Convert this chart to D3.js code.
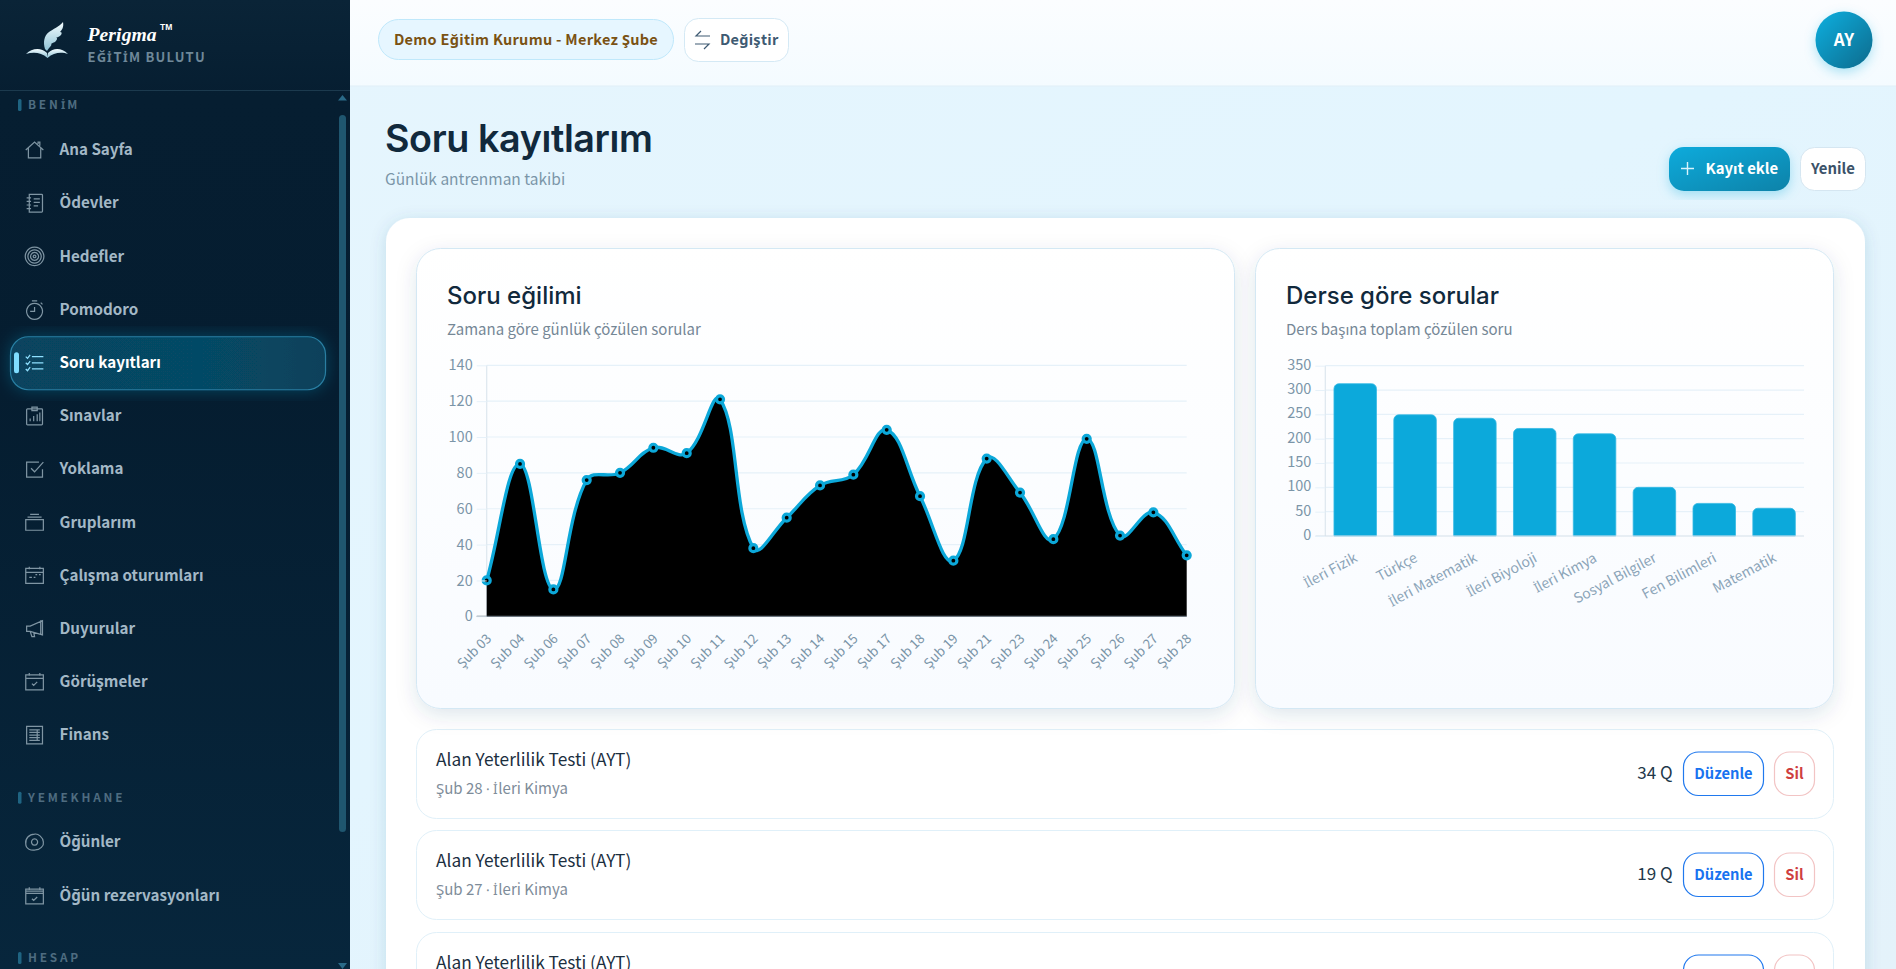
<!DOCTYPE html>
<html lang="tr">
<head>
<meta charset="utf-8">
<title>Soru kayıtlarım</title>
<script src="https://cdn.jsdelivr.net/npm/d3@7"></script>
<style>
  /* dotted capital I and the middle dot are poor in the CJK font, borrow them */
  @font-face { font-family: "Fix"; src: local("Noto Sans"), local("NotoSans-Regular"); font-weight: 400; unicode-range: U+0130, U+00B7; size-adjust: 92%; }
  @font-face { font-family: "Fix"; src: local("Noto Sans Bold"), local("NotoSans-Bold"); font-weight: 700; unicode-range: U+0130, U+00B7; size-adjust: 92%; }
  html, body { margin: 0; padding: 0; background: #e5f5fd; overflow: hidden; }
  svg { display: block; }
  text { font-family: "Fix", "Noto Sans CJK SC", "Noto Sans", sans-serif; }
  .head { font-family: "Inter", sans-serif; }
</style>
</head>
<body>
<div id="app"></div>
<script>
// line chart data
const trendDays = ["Şub 03","Şub 04","Şub 06","Şub 07","Şub 08","Şub 09","Şub 10","Şub 11","Şub 12","Şub 13","Şub 14","Şub 15","Şub 17","Şub 18","Şub 19","Şub 21","Şub 23","Şub 24","Şub 25","Şub 26","Şub 27","Şub 28"];
const trendValues = [20,85,15,76,80,94,91,121,38,55,73,79,104,67,31,88,69,43,99,45,58,34];
const trendTicks = [0,20,40,60,80,100,120,140];

// bar chart data
const subjects = ["İleri Fizik","Türkçe","İleri Matematik","İleri Biyoloji","İleri Kimya","Sosyal Bilgiler","Fen Bilimleri","Matematik"];
const subjectValues = [313,249,242,221,210,100,67,57];
const subjectTicks = [0,50,100,150,200,250,300,350];

// sidebar
const navMain = ["Ana Sayfa","Ödevler","Hedefler","Pomodoro","Soru kayıtları","Sınavlar","Yoklama","Gruplarım","Çalışma oturumları","Duyurular","Görüşmeler","Finans"];
const navMeal = ["Öğünler","Öğün rezervasyonları"];

// records under the charts
const recordTitles = ["Alan Yeterlilik Testi (AYT)","Alan Yeterlilik Testi (AYT)","Alan Yeterlilik Testi (AYT)"];
const recordSubs = ["Şub 28 · İleri Kimya","Şub 27 · İleri Kimya",""];
const recordCounts = ["34 Q","19 Q",""];

// icons on a 24 box, same order as the nav lists
const navIcons = [
  "M2 12 L12 3 L22 12 M5 10 V21 H19 V10 M16 5 V3 H18 V7",
  "M6 2 H20 A1 1 0 0 1 21 3 V21 A1 1 0 0 1 20 22 H6 Z M3 6 H8 M3 10 H8 M3 14 H8 M3 18 H8 M11 7 H18 M11 11 H18 M11 15 H16",
  "M12 1.5 A10.5 10.5 0 1 0 12.01 1.5 Z M12 4.5 A7.5 7.5 0 1 0 12.01 4.5 Z M12 7.5 A4.5 4.5 0 1 0 12.01 7.5 Z M12 10.5 A1.5 1.5 0 1 0 12.01 10.5 Z",
  "M12 5 A9 9 0 1 0 12.01 5 Z M12 9 V14 H7 M9 2 H15 M19 4 L21 6",
  "M9 5 H22 M9 12 H22 M9 19 H22 M2 5 L4 7 L7 3 M2 12 L4 14 L7 10 M2 19 L4 21 L7 17",
  "M4 4 H20 A1 1 0 0 1 21 5 V21 A1 1 0 0 1 20 22 H4 A1 1 0 0 1 3 21 V5 A1 1 0 0 1 4 4 Z M9 2 H15 V6 H9 Z M7 18 V15 M11 18 V12 M15 18 V10 M18 18 V8",
  "M21 12 V21 H3 V4 H17 M8 11 L12 15 L22 4",
  "M2 9 H22 V21 H2 Z M4 6 H20 M7 3 H17",
  "M2 4 H22 V21 H2 Z M2 8.5 H22 M6 2 V5 M18 2 V5 M6 14 H9 M11 14 H13 M13 11 H15 M17 11 H19",
  "M21 3 V19 L7 15 H3 V9 H7 Z M21 3 H19 V19 M7 15 L9 21 H12 L11 16",
  "M2 4 H22 V21 H2 Z M2 8 H22 M6 2 V5 M18 2 V5 M9 14 L11 16 L15 12",
  "M3 2 H21 V22 H3 Z M6 6 H18 M6 9 H18 M6 12 H18 M6 15 H18 M6 18 H18 M15 6 V18"
];
const mealIcons = [
  "M12 3 C16 2 22 7 22 12 C23 16 18 21 13 21 C8 22 2 20 2 14 C1 8 6 3 12 3 Z M12 8.5 A3.5 3.5 0 1 0 12.01 8.5 Z",
  "M2 4 H22 V21 H2 Z M2 9 H22 M2 6.5 H22 M6 2 V5 M18 2 V5 M9 15 L11 17 L15 13"
];

const W = 1896, H = 969;
const svg = d3.select("#app").append("svg").attr("width", W).attr("height", H);
const defs = svg.append("defs");

function gradient(id, x2, y2, stops) {
  const g = defs.append("linearGradient").attr("id", id)
    .attr("x1", 0).attr("y1", 0).attr("x2", x2).attr("y2", y2);
  stops.forEach(s => g.append("stop").attr("offset", s[0]).attr("stop-color", s[1]));
}
gradient("sideBg", 0, 1, [[0, "#0a2437"], [0.1, "#061e31"], [0.4, "#051d30"], [1, "#07263c"]]);
gradient("topBg", 0, 1, [[0, "#fbfdff"], [1, "#f4fbff"]]);
gradient("pageBg", 1, 1, [[0, "#e6f5fd"], [0.5, "#e3f5fe"], [1, "#e4f2fa"]]);
gradient("cardBg", 0, 1, [[0, "#ffffff"], [1, "#f8fbff"]]);
gradient("activeBg", 1, 0, [[0, "#07435e"], [0.6, "#064a66"], [1, "#08415a"]]);
gradient("blueBtn", 1, 1, [[0, "#0cabdc"], [1, "#0a82a8"]]);
gradient("avatarBg", 1, 1, [[0, "#0db0e0"], [1, "#086a8c"]]);
gradient("logoBg", 0, 1, [[0, "#f2fbfe"], [1, "#8fc3d6"]]);

function shadow(id, dy, blur, color, op) {
  defs.append("filter").attr("id", id)
    .attr("x", "-20%").attr("y", "-20%").attr("width", "140%").attr("height", "140%")
    .append("feDropShadow").attr("dx", 0).attr("dy", dy).attr("stdDeviation", blur)
    .attr("flood-color", color).attr("flood-opacity", op);
}
shadow("cardShadow", 6, 10, "#1a4a68", 0.13);
shadow("panelShadow", 3, 8, "#1a5a80", 0.16);
shadow("btnShadow", 4, 6, "#0ca7d9", 0.3);
shadow("glow", 0, 8, "#1aa7d8", 0.3);

function box(parent, x, y, w, h, r, fill, stroke, sw) {
  return parent.append("rect").attr("x", x).attr("y", y).attr("width", w).attr("height", h)
    .attr("rx", r).attr("fill", fill).attr("stroke", stroke || "none").attr("stroke-width", sw || 1);
}
function label(parent, x, y, str, size, color, weight, anchor) {
  return parent.append("text").attr("x", x).attr("y", y).text(str)
    .attr("font-size", size).attr("fill", color).attr("font-weight", weight || 400)
    .attr("text-anchor", anchor || "start");
}

// page background, top bar
box(svg, 0, 0, W, H, 0, "url(#pageBg)");
box(svg, 350, 0, W - 350, 86, 0, "url(#topBg)");
svg.append("line").attr("x1", 350).attr("x2", W).attr("y1", 86).attr("y2", 86).attr("stroke", "#e1eff7");

// sidebar
const side = svg.append("g");
box(side, 0, 0, 350, H, 0, "url(#sideBg)");
side.append("line").attr("x1", 0).attr("x2", 350).attr("y1", 90.5).attr("y2", 90.5).attr("stroke", "#1c3a4e");

// logo
const logo = side.append("g").attr("transform", "translate(26,22)");
logo.append("path").attr("fill", "url(#logoBg)")
  .attr("d", "M19 27 C17 20 18 14 23 10 C27 7 33 5 37 0 C38 5 36 8 34 10 C36 10 36 11 35 13 C33 15 31 15 30 16 C32 16 31 18 29 20 C27 21 26 21 25 22 C26 22 25 24 24 25 C23 26 22 27 21 29 Z");
logo.append("path").attr("fill", "url(#logoBg)")
  .attr("d", "M0 32 C6 26 15 25 21 31 L21.5 35 L22 31 C28 25 36 26 42 32 C36 30 28 30 21.5 36 C15 30 7 30 0 32 Z");
label(side, 87.5, 41, "Perigma", 19.6, "#ffffff", 700).style("font-family", "'Liberation Serif', serif").style("font-style", "italic").attr("letter-spacing", 0.1);
label(side, 160, 30, "TM", 8.5, "#ffffff", 700).style("font-family", "'Liberation Sans', sans-serif");
label(side, 87.5, 62, "EĞİTİM BULUTU", 13, "#6f8899", 700).attr("letter-spacing", 1.2);

function sectionLabel(str, yc) {
  box(side, 18, yc - 6, 3.5, 12, 1.5, "#1f6482");
  label(side, 28, yc + 4.4, str, 11.8, "#4e6c80", 700).attr("letter-spacing", 2.8);
}
sectionLabel("BENİM", 105);
sectionLabel("YEMEKHANE", 797.7);
sectionLabel("HESAP", 958);

function navItem(str, icon, yc, active) {
  if (active) {
    box(side, 10.5, yc - 26, 315, 53, 18, "url(#activeBg)", "#2a7ea2", 1.2).attr("filter", "url(#glow)");
    box(side, 14, yc - 10.5, 5, 21, 2.5, "#7fdcff");
  }
  side.append("path").attr("d", icon)
    .attr("transform", `translate(${24},${yc - 10.5}) scale(0.88)`)
    .attr("fill", "none").attr("stroke", active ? "#8fe0ff" : "#7f95a3").attr("stroke-width", 1.4);
  label(side, 59.5, yc + 5.3, str, 15.2, active ? "#ffffff" : "#a3b8c6", 700);
}
const navY = d3.scaleLinear().domain([0, navMain.length - 1]).range([150, 735]);
navMain.forEach((d, i) => navItem(d, navIcons[i], navY(i), i === 4));
const mealY = d3.scaleLinear().domain([0, 1]).range([842, 896]);
navMeal.forEach((d, i) => navItem(d, mealIcons[i], mealY(i), false));

// side scrollbar
box(side, 339, 115, 7, 717, 3.5, "#1f566f");
side.append("path").attr("d", "M338 100.5 L342.5 95 L347 100.5 Z").attr("fill", "#2a6a88");
side.append("path").attr("d", "M338 963 L342.5 969 L347 963 Z").attr("fill", "#2a6a88");

// top bar controls
box(svg, 378.5, 19.5, 295, 40, 20, "#e6f6ff", "#bfe8fb");
label(svg, 526, 45, "Demo Eğitim Kurumu - Merkez Şube", 14.5, "#7a5213", 700, "middle").attr("letter-spacing", 0.3);
box(svg, 684.5, 18.5, 104, 43, 14, "#ffffff", "#d4e9f5");
svg.append("path").attr("d", "M710 36 H696 L701 31 M695 44 H709 L704 49").attr("fill", "none").attr("stroke", "#3e5a72").attr("stroke-width", 1.2);
label(svg, 720, 44.5, "Değiştir", 14.5, "#3e5a72", 700).attr("letter-spacing", 0.25);
svg.append("circle").attr("cx", 1844).attr("cy", 40).attr("r", 28.5).attr("fill", "url(#avatarBg)").attr("filter", "url(#btnShadow)");
label(svg, 1844, 46, "AY", 17, "#ffffff", 700, "middle");

// page title
label(svg, 385, 152, "Soru kayıtlarım", 37.7, "#11293c", 600).attr("class", "head").attr("letter-spacing", -0.4);
label(svg, 385, 184.5, "Günlük antrenman takibi", 15.5, "#7b95a8");

box(svg, 1669, 147, 121, 44, 15, "url(#blueBtn)").attr("filter", "url(#btnShadow)");
svg.append("path").attr("d", "M1681 168.5 H1694 M1687.5 162 V175").attr("stroke", "#d8f3fc").attr("stroke-width", 1.4);
label(svg, 1705.5, 174, "Kayıt ekle", 14.9, "#ffffff", 700);
box(svg, 1800.5, 147.5, 65, 43, 14, "#ffffff", "#d5e6f1");
label(svg, 1833, 174, "Yenile", 14.9, "#3b5269", 700, "middle");

// main panel
box(svg, 386, 218, 1479, H, 24, "#ffffff", "none").attr("filter", "url(#panelShadow)");

// records come first so the chart card shadow falls over them
const rowTop = [729.5, 830.5, 932.5];
recordTitles.forEach((t, i) => {
  const y0 = rowTop[i];
  box(svg, 416.5, y0, 1417, 89, 20, "#ffffff", "#e0f0f9");
  label(svg, 436, y0 + 36.5, t, 17.3, "#1c2f3f");
  if (recordSubs[i]) label(svg, 436, y0 + 64, recordSubs[i], 15, "#7e8c99");
  if (recordCounts[i]) label(svg, 1672.5, y0 + 49.8, recordCounts[i], 17, "#23384a", 400, "end");
  box(svg, 1683.5, y0 + 22.5, 80, 43.5, 15, "#ffffff", "#2079ee", 1.2);
  label(svg, 1723.5, y0 + 49.3, "Düzenle", 14.7, "#1873f0", 700, "middle");
  box(svg, 1774.5, y0 + 22.5, 40, 43.5, 15, "#ffffff", "#f2c4c4", 1.2);
  label(svg, 1794.5, y0 + 49.3, "Sil", 14.7, "#cf3f3f", 700, "middle");
});

// chart cards
function chartCard(x, w, title, sub) {
  box(svg, x, 248.5, w, 460, 24, "url(#cardBg)", "#d4e8f4").attr("filter", "url(#cardShadow)");
  label(svg, x + 30.5, 304, title, 24, "#11293c", 500).attr("class", "head");
  label(svg, x + 30.5, 335, sub, 15, "#758796");
}
chartCard(416.5, 818, "Soru eğilimi", "Zamana göre günlük çözülen sorular");
chartCard(1255.5, 578, "Derse göre sorular", "Ders başına toplam çözülen soru");

function styleAxis(g, tickColor, textColor, size) {
  g.selectAll(".domain").remove();
  g.selectAll("line").attr("stroke", tickColor);
  g.selectAll("text").attr("fill", textColor).attr("font-size", size);
}

// spline like a tension 0.4 line: control points scale with the chord lengths
function splinePath(pts) {
  const t = 0.4, ctrl = pts.map((cur, i) => {
    const prev = pts[i - 1] || cur, next = pts[i + 1] || cur;
    const d01 = Math.hypot(cur[0] - prev[0], cur[1] - prev[1]);
    const d12 = Math.hypot(next[0] - cur[0], next[1] - cur[1]);
    const fa = t * d01 / (d01 + d12), fb = t * d12 / (d01 + d12);
    return {
      inX: cur[0] - fa * (next[0] - prev[0]), inY: cur[1] - fa * (next[1] - prev[1]),
      outX: cur[0] + fb * (next[0] - prev[0]), outY: cur[1] + fb * (next[1] - prev[1])
    };
  });
  const p = d3.path();
  p.moveTo(pts[0][0], pts[0][1]);
  for (let i = 1; i < pts.length; i++) {
    p.bezierCurveTo(ctrl[i - 1].outX, ctrl[i - 1].outY, ctrl[i].inX, ctrl[i].inY, pts[i][0], pts[i][1]);
  }
  return p.toString();
}

// line chart
const lineX = d3.scalePoint().domain(trendDays).range([486.7, 1186.7]);
const lineY = d3.scaleLinear().domain([0, 140]).range([616.3, 365.3]);
const lineG = svg.append("g");

lineG.append("g").selectAll("line").data(trendTicks.slice(1)).join("line")
  .attr("x1", lineX.range()[0]).attr("x2", lineX.range()[1])
  .attr("y1", d => lineY(d)).attr("y2", d => lineY(d))
  .attr("stroke", "#e6f1f9").attr("stroke-width", 1.2);
lineG.append("line").attr("x1", 486.7).attr("x2", 486.7).attr("y1", 365.3).attr("y2", 616.3).attr("stroke", "#dde7ef").attr("stroke-width", 1.2);

const linePts = trendDays.map((d, i) => [lineX(d), lineY(trendValues[i])]);
const lineD = splinePath(linePts);
lineG.append("path").attr("fill", "#000000")
  .attr("d", `${lineD}L${lineX.range()[1]},${lineY(0)}L${lineX.range()[0]},${lineY(0)}Z`);
lineG.append("line").attr("x1", 476.7).attr("x2", 1186.7).attr("y1", 616.3).attr("y2", 616.3).attr("stroke", "#6d7781").attr("stroke-width", 1.2);
lineG.append("path").attr("d", lineD).attr("fill", "none").attr("stroke", "#0ca8d9").attr("stroke-width", 3.3);
lineG.append("g").selectAll("circle").data(linePts).join("circle")
  .attr("cx", d => d[0]).attr("cy", d => d[1]).attr("r", 3.5)
  .attr("fill", "#000000").attr("stroke", "#0ca8d9").attr("stroke-width", 3.2);

lineG.append("g").attr("transform", `translate(486.7,0)`)
  .call(d3.axisLeft(lineY).tickValues(trendTicks).tickSize(10).tickPadding(4))
  .call(g => styleAxis(g, "#e6f1f9", "#7b95a8", 14.5));
lineG.append("g").attr("transform", `translate(0,${lineY(0)})`)
  .call(d3.axisBottom(lineX).tickSize(0))
  .call(g => styleAxis(g, "none", "#7b95a8", 13.3))
  .call(g => g.selectAll("text")
    .attr("text-anchor", "end").attr("x", 2).attr("y", 26).attr("dy", 0)
    .attr("transform", "rotate(-45)")
    .attr("transform-origin", "0 21"));

// bar chart
const barX = d3.scaleBand().domain(subjects).range([1325.3, 1804]).paddingInner(0.29).paddingOuter(0.145);
const barY = d3.scaleLinear().domain([0, 350]).range([536, 365.7]);
const barG = svg.append("g");

barG.append("g").selectAll("line").data(subjectTicks.slice(1)).join("line")
  .attr("x1", 1325.3).attr("x2", 1804)
  .attr("y1", d => barY(d)).attr("y2", d => barY(d))
  .attr("stroke", "#e6f1f9").attr("stroke-width", 1.2);
barG.append("line").attr("x1", 1325.3).attr("x2", 1325.3).attr("y1", 365.7).attr("y2", 536).attr("stroke", "#dde7ef").attr("stroke-width", 1.2);

function barPath(x, w, top, bottom, r) {
  const p = d3.path();
  p.moveTo(x, bottom);
  p.lineTo(x, top + r);
  p.arcTo(x, top, x + r, top, r);
  p.lineTo(x + w - r, top);
  p.arcTo(x + w, top, x + w, top + r, r);
  p.lineTo(x + w, bottom);
  p.closePath();
  return p.toString();
}
barG.append("g").selectAll("path").data(subjects).join("path")
  .attr("d", (d, i) => barPath(barX(d), barX.bandwidth(), barY(subjectValues[i]), barY(0), 5))
  .attr("fill", "#0ca9db").attr("stroke", "#33b9e3").attr("stroke-width", 0.8);

barG.append("line").attr("x1", 1315.5).attr("x2", 1804).attr("y1", 536).attr("y2", 536).attr("stroke", "#d3dfe9").attr("stroke-width", 1.2);
barG.append("g").attr("transform", `translate(1325.3,-1)`)
  .call(d3.axisLeft(barY).tickValues(subjectTicks).tickSize(10).tickPadding(4))
  .call(g => styleAxis(g, "#e6f1f9", "#7b95a8", 14.5))
  .call(g => g.selectAll("line").attr("transform", "translate(0,1)"));
barG.append("g").attr("transform", `translate(0,${barY(0)})`)
  .call(d3.axisBottom(barX).tickSize(0))
  .call(g => styleAxis(g, "none", "#8ba4b8", 14))
  .call(g => g.selectAll("text")
    .attr("text-anchor", "end").attr("x", 1).attr("y", 26).attr("dy", 0)
    .attr("transform", "rotate(-28)")
    .attr("transform-origin", "0 21"));
</script>
</body>
</html>
